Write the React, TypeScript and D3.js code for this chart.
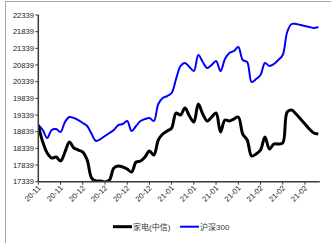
import React from 'react'
import * as d3 from 'd3'

// 家电(中信) index, daily closes
const appliance = [
  19039, 18529, 18199, 18049, 18079, 17959, 18229, 18529, 18349, 18289,
  18229, 17989, 17449, 17359, 17359, 17329, 17389, 17749, 17809, 17779,
  17719, 17629, 17929, 17959, 18079, 18259, 18139, 18589, 18769, 18859,
  18949, 19399, 19339, 19549, 19309, 19129, 19669, 19369, 19159, 19279,
  19399, 18829, 19189, 19159, 19219, 19279, 18769, 18589, 18109, 18169,
  18289, 18679, 18319, 18469, 18469, 18499, 19429, 19489, 19369, 19219,
  19069, 18919, 18799, 18769,
]

// 沪深300, rebased
const hs300 = [
  19039, 18889, 18649, 18889, 18919, 18829, 19129, 19279, 19249, 19189,
  19099, 19009, 18769, 18559, 18619, 18709, 18799, 18889, 19039, 19069,
  19159, 18859, 19009, 19159, 19219, 19249, 19159, 19669, 19849, 19909,
  19999, 20419, 20809, 20899, 20779, 20659, 21139, 20929, 20749, 20839,
  20959, 20659, 21019, 21199, 21259, 21379, 20989, 20929, 20329, 20419,
  20539, 20899, 20809, 20869, 20989, 21139, 21829, 22069, 22069, 22039,
  22009, 21979, 21949, 21979,
]

const tickLabels = [
  '20-11', '20-11', '20-12', '20-12', '20-12', '20-12', '21-01',
  '21-01', '21-01', '21-01', '21-02', '21-02', '21-02',
]
const tickEvery = 5
const yTicks = [17339, 17839, 18339, 18839, 19339, 19839, 20339, 20839, 21339, 21839, 22339]

const seriesNames = ['家电(中信)', '沪深300']
const seriesColors = ['#000000', '#0000ff']

const W = 331
const H = 243
const left = 38.3
const right = 318.3
const top = 15
const bottom = 181.7
const font = '"Liberation Sans", Arial, "Noto Sans CJK SC", sans-serif'

export default function App() {
  const idx = d3.range(appliance.length)
  const x = d3.scalePoint<number>().domain(idx).range([left, right])
  const y = d3.scaleLinear().domain([17339, 22339]).range([bottom, top])

  const line = d3
    .line<number>()
    .x((_, i) => x(i) as number)
    .y(d => y(d))
    .curve(d3.curveCatmullRom.alpha(0.5))

  const axisColor = '#3a3a3a'

  return (
    <svg width={W} height={H} style={{ position: 'fixed', left: 0, top: 0, background: '#fff' }}>
      <defs>
        <clipPath id="plot">
          <rect x={left} y={top - 2} width={right - left + 4} height={bottom - top + 2} />
        </clipPath>
      </defs>
      <rect x={5.5} y={1.5} width={W} height={H} fill="#fff" stroke="#a6a6a6" strokeWidth={1} />

      <g clipPath="url(#plot)">
        <path d={line(hs300) || ''} fill="none" stroke={seriesColors[1]} strokeWidth={2} />
        <path d={line(appliance) || ''} fill="none" stroke={seriesColors[0]} strokeWidth={3} strokeLinejoin="round" />
      </g>

      {/* y axis */}
      <line x1={left} x2={left} y1={top} y2={bottom} stroke={axisColor} strokeWidth={1.5} />
      {yTicks.map(t => (
        <g key={t}>
          <line x1={left - 3} x2={left} y1={y(t)} y2={y(t)} stroke={axisColor} strokeWidth={1} />
          <text x={34} y={y(t)} dy="0.35em" textAnchor="end" fontSize={7.6} fontFamily={font} fill="#222">
            {t}
          </text>
        </g>
      ))}

      {/* x axis */}
      <line x1={left} x2={right + 1.5} y1={bottom} y2={bottom} stroke={axisColor} strokeWidth={1.5} />
      {tickLabels.map((lab, k) => {
        const tx = x(k * tickEvery) as number
        return (
          <g key={k}>
            <line x1={tx} x2={tx} y1={bottom} y2={bottom + 3} stroke={axisColor} strokeWidth={1} />
            <text
              transform={`translate(${tx + 1},${bottom + 5}) rotate(-45)`}
              textAnchor="end"
              dy="0.35em"
              fontSize={7.6}
              fontFamily={font}
              fill="#222"
            >
              {lab}
            </text>
          </g>
        )
      })}

      {/* legend */}
      {seriesNames.map((name, i) => {
        const lx = i === 0 ? 113 : 180
        return (
          <g key={name}>
            <line x1={lx} x2={lx + 19} y1={226.7} y2={226.7} stroke={seriesColors[i]} strokeWidth={i === 0 ? 3 : 2} />
            <text x={lx + 20} y={226.7} dy="0.35em" fontSize={8} fontFamily={font} fill="#333">
              {name}
            </text>
          </g>
        )
      })}
    </svg>
  )
}
